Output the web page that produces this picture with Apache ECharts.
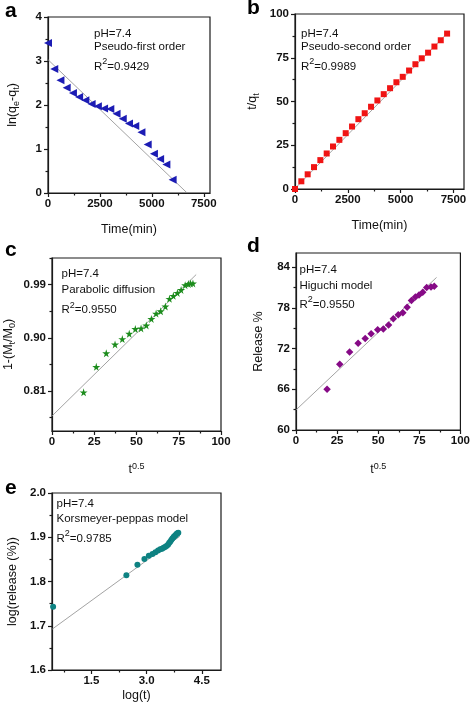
<!DOCTYPE html>
<html><head><meta charset="utf-8">
<script src="https://cdn.jsdelivr.net/npm/echarts@6/dist/echarts.min.js"></script>
<style>html,body{margin:0;padding:0;background:#fff}#c{width:473px;height:706px}</style>
</head><body><div id="c"></div>
<script>
// ---------- data ----------
const aX = [0,300,600,900,1200,1500,1800,2100,2400,2700,3000,3300,3600,3900,4200,4500,4800,5100,5400,5700,6000];
const aY = [3.41,2.82,2.56,2.39,2.27,2.18,2.11,2.02,1.97,1.92,1.91,1.80,1.69,1.58,1.52,1.38,1.10,0.89,0.77,0.65,0.30];
const aFitX = [0,6700];
const aFitY = [3.03,0];
const aXTicks = [0,2500,5000,7500];
const aXMinor = [1250,3750,6250];
const aYTicks = [0,1,2,3,4];
const aYMinor = [0.5,1.5,2.5,3.5];

const bX = [0,300,600,900,1200,1500,1800,2100,2400,2700,3000,3300,3600,3900,4200,4500,4800,5100,5400,5700,6000,6300,6600,6900,7200];
const bY = [0,4.4,8.4,12.5,16.5,20.3,24.3,28.1,31.9,35.7,39.9,43.3,47.0,50.6,54.2,57.6,61.0,64.1,67.7,71.3,74.7,77.9,81.4,85.0,88.8];
const bFitX = [0,7250];
const bFitY = [0.3,89.5];
const bXTicks = [0,2500,5000,7500];
const bXMinor = [1250,3750,6250];
const bYTicks = [0,25,50,75,100];
const bYMinor = [12.5,37.5,62.5,87.5];

const cX = [18.7,26.2,32.1,37.3,41.6,45.7,49.3,52.7,55.8,58.8,61.6,64.3,67.1,69.5,71.8,74.2,76.4,78.8,80.7,82.0,83.4];
const cY = [0.808,0.851,0.874,0.889,0.898,0.907,0.915,0.916,0.921,0.932,0.941,0.945,0.953,0.966,0.971,0.976,0.981,0.989,0.991,0.992,0.992];
const cFitX = [0,85.3];
const cFitY = [0.768,1.007];
const cXTicks = [0,25,50,75,100];
const cXMinor = [12.5,37.5,62.5,87.5];
const cYTicks = [0.81,0.90,0.99];
const cYMinor = [0.765,0.855,0.945,1.035];

const dX = [18.9,26.6,32.6,37.8,42.1,45.7,49.7,53.1,56.3,59.2,62.2,65.0,67.6,70.2,72.6,74.8,77.1,79.5,82.1,84.1];
const dY = [66.0,69.7,71.5,72.8,73.5,74.2,74.8,74.9,75.5,76.4,77.0,77.3,78.1,79.1,79.6,79.9,80.3,81.0,81.1,81.2];
const dFitX = [0,85.5];
const dFitY = [62.96,82.5];
const dXTicks = [0,25,50,75,100];
const dXMinor = [12.5,37.5,62.5,87.5];
const dYTicks = [60,66,72,78,84];
const dYMinor = [63,69,75,81];

const eX = [0.46,2.45,2.75,2.94,3.06,3.16,3.24,3.31,3.37,3.42,3.46,3.50,3.54,3.58,3.61,3.64,3.67,3.70,3.73,3.75,3.78,3.80,3.82,3.84,3.86];
const eY = [1.743,1.814,1.838,1.851,1.858,1.862,1.866,1.870,1.873,1.874,1.876,1.878,1.880,1.883,1.887,1.890,1.894,1.897,1.900,1.902,1.904,1.906,1.908,1.909,1.910];
const eFitX = [0.43,3.9];
const eFitY = [1.692,1.902];
const eXTicks = [1.5,3.0,4.5];
const eXMinor = [0.75,2.25,3.75];
const eYTicks = [1.6,1.7,1.8,1.9,2.0];
const eYMinor = [1.65,1.75,1.85,1.95];

// ---------- styling / layout ----------
const FONT = '"Liberation Sans", Arial, Helvetica, sans-serif';
const AX = '#1a1a1a';
const STAR = 'path://M50,0 L61,35 L98,35 L68,57 L79,91 L50,70 L21,91 L32,57 L2,35 L39,35 Z';
const nameRich = {
  n: {fontFamily: FONT, fontSize: 12.5, color: '#111', lineHeight: 16},
  sub: {fontFamily: FONT, fontSize: 9, color: '#111', lineHeight: 9, verticalAlign: 'bottom'},
  sup: {fontFamily: FONT, fontSize: 9, color: '#111', lineHeight: 9, verticalAlign: 'top'}
};

const panels = [
  {x: aX, y: aY, fx: aFitX, fy: aFitY, box: [48, 17, 162, 176], xr: [0, 7800], yr: [0, 4],
   xt: aXTicks, xm: aXMinor, yt: aYTicks, ym: aYMinor, xfmt: v => String(v), yfmt: v => String(v),
   xname: '{n|Time(min)}', yname: '{n|ln(q}{sub|e}{n|-q}{sub|t}{n|)}', xgap: 29, ygap: 27,
   sym: 'triangle', size: 8, rot: 90, color: '#1c1cb4'},
  {x: bX, y: bY, fx: bFitX, fy: bFitY, box: [295, 14, 169, 175], xr: [0, 8000], yr: [0, 100],
   xt: bXTicks, xm: bXMinor, yt: bYTicks, ym: bYMinor, xfmt: v => String(v), yfmt: v => String(v),
   xname: '{n|Time(min)}', yname: '{n|t/q}{sub|t}', xgap: 29, ygap: 34,
   sym: 'rect', size: 6, rot: 0, color: '#f01414'},
  {x: cX, y: cY, fx: cFitX, fy: cFitY, box: [52, 258, 169, 173], xr: [0, 100], yr: [0.7426, 1.035],
   xt: cXTicks, xm: cXMinor, yt: cYTicks, ym: cYMinor, xfmt: v => String(v), yfmt: v => v.toFixed(2),
   xname: '{n|t}{sup|0.5}', yname: '{n|1-(M}{sub|t}{n|/M}{sub|0}{n|)}', xgap: 31, ygap: 35,
   sym: STAR, size: 8, rot: 0, color: '#1c8c1c'},
  {x: dX, y: dY, fx: dFitX, fy: dFitY, box: [296, 253, 168, 177], xr: [0, 100], yr: [60, 86.1],
   xt: dXTicks, xm: dXMinor, yt: dYTicks, ym: dYMinor, xfmt: v => String(v), yfmt: v => String(v),
   xname: '{n|t}{sup|0.5}', yname: '{n|Release %}', xgap: 32, ygap: 29,
   sym: 'diamond', size: 7.5, rot: 0, color: '#860a86'},
  {x: eX, y: eY, fx: eFitX, fy: eFitY, box: [52, 493, 169, 177], xr: [0.43, 5.02], yr: [1.6, 2.0],
   xt: eXTicks, xm: eXMinor, yt: eYTicks, ym: eYMinor, xfmt: v => v.toFixed(1), yfmt: v => v.toFixed(1),
   xname: '{n|log(t)}', yname: '{n|log(release (%))}', xgap: 18, ygap: 31,
   sym: 'circle', size: 6, rot: 0, color: '#0e8282'}
];

const grid = [], xAxis = [], yAxis = [], series = [];
panels.forEach((p, i) => {
  grid.push({left: p.box[0], top: p.box[1], width: p.box[2], height: p.box[3], show: true,
    borderColor: AX, borderWidth: 1.2, backgroundColor: 'transparent'});
  const lbl = {fontFamily: FONT, fontWeight: 'bold', fontSize: 11.5, color: '#111'};
  xAxis.push({gridIndex: i, type: 'value', position: 'bottom', min: p.xr[0], max: p.xr[1],
    axisLine: {show: true, onZero: false, lineStyle: {color: AX, width: 1.2}},
    axisTick: {show: true, inside: false, length: 4, customValues: p.xt, lineStyle: {color: AX, width: 1.2}},
    axisLabel: Object.assign({customValues: p.xt, margin: 5, formatter: p.xfmt}, lbl),
    splitLine: {show: false},
    name: p.xname, nameLocation: 'middle', nameGap: p.xgap, nameTextStyle: {rich: nameRich}});
  xAxis.push({gridIndex: i, type: 'value', position: 'bottom', min: p.xr[0], max: p.xr[1],
    axisLine: {show: false, onZero: false},
    axisTick: {show: true, inside: false, length: 2.5, customValues: p.xm, lineStyle: {color: AX, width: 1.2}},
    axisLabel: {show: false}, splitLine: {show: false}});
  yAxis.push({gridIndex: i, type: 'value', position: 'left', min: p.yr[0], max: p.yr[1],
    axisLine: {show: true, onZero: false, lineStyle: {color: AX, width: 1.2}},
    axisTick: {show: true, inside: false, length: 4, customValues: p.yt, lineStyle: {color: AX, width: 1.2}},
    axisLabel: Object.assign({customValues: p.yt, margin: 6, formatter: p.yfmt}, lbl),
    splitLine: {show: false},
    name: p.yname, nameLocation: 'middle', nameGap: p.ygap, nameTextStyle: {rich: nameRich}});
  yAxis.push({gridIndex: i, type: 'value', position: 'left', min: p.yr[0], max: p.yr[1],
    axisLine: {show: false, onZero: false},
    axisTick: {show: true, inside: false, length: 2.5, customValues: p.ym, lineStyle: {color: AX, width: 1.2}},
    axisLabel: {show: false}, splitLine: {show: false}});
  series.push({type: 'line', xAxisIndex: 2 * i, yAxisIndex: 2 * i, symbol: 'none', silent: true,
    data: p.fx.map((v, k) => [v, p.fy[k]]), lineStyle: {color: '#8c8c8c', width: 0.8}, z: 1});
  series.push({type: 'scatter', xAxisIndex: 2 * i, yAxisIndex: 2 * i, symbol: p.sym, symbolSize: p.size,
    symbolRotate: p.rot, data: p.x.map((v, k) => [v, p.y[k]]), itemStyle: {color: p.color, opacity: 1}, z: 3});
});

// ---------- annotations ----------
const annRich = {
  n: {fontFamily: FONT, fontSize: 11.5, color: '#111', lineHeight: 18},
  sup: {fontFamily: FONT, fontSize: 9, color: '#111', lineHeight: 9, verticalAlign: 'top'}
};
function txt(x, y, text, extra) {
  return {type: 'text', x: x, y: y, z: 10, style: Object.assign({text: text, fill: '#111',
    font: '11.5px ' + FONT, align: 'left', verticalAlign: 'middle', rich: annRich}, extra || {})};
}
function letter(x, y, t) {
  return {type: 'text', x: x, y: y, z: 10, style: {text: t, fill: '#000', font: 'bold 21px ' + FONT,
    align: 'left', verticalAlign: 'middle'}};
}
const graphic = [
  letter(5, 11, 'a'), letter(247, 8, 'b'), letter(5, 250, 'c'), letter(247, 246, 'd'), letter(5, 488, 'e'),
  txt(94, 33.5, '{n|pH=7.4}'), txt(94, 47, '{n|Pseudo-first order}'), txt(94, 66.5, '{n|R}{sup|2}{n|=0.9429}'),
  txt(301, 33.5, '{n|pH=7.4}'), txt(301, 47, '{n|Pseudo-second order}'), txt(301, 66.5, '{n|R}{sup|2}{n|=0.9989}'),
  txt(61.5, 273.5, '{n|pH=7.4}'), txt(61.5, 289.5, '{n|Parabolic diffusion}'), txt(61.5, 310, '{n|R}{sup|2}{n|=0.9550}'),
  txt(299.5, 270, '{n|pH=7.4}'), txt(299.5, 286, '{n|Higuchi model}'), txt(299.5, 304.5, '{n|R}{sup|2}{n|=0.9550}'),
  txt(56.5, 503.5, '{n|pH=7.4}'), txt(56.5, 519, '{n|Korsmeyer-peppas model}'), txt(56.5, 538.5, '{n|R}{sup|2}{n|=0.9785}')
];

const chart = echarts.init(document.getElementById('c'), null, {renderer: 'canvas'});
chart.setOption({animation: false, backgroundColor: '#fff', grid, xAxis, yAxis, series, graphic});
</script></body></html>
